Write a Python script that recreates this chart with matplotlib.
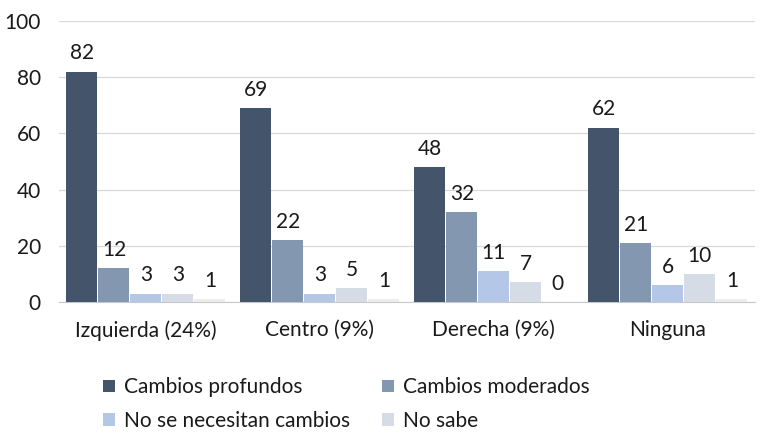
import matplotlib

matplotlib.use('Agg')
import matplotlib.pyplot as plt
import numpy as np

plt.rcParams['font.family'] = ['Lato', 'DejaVu Sans']

grupos = ['Izquierda (24%)', 'Centro (9%)', 'Derecha (9%)', 'Ninguna']
series = ['Cambios profundos', 'Cambios moderados', 'No se necesitan cambios', 'No sabe', 'No contesta']
profundos = [82, 69, 48, 62]
moderados = [12, 22, 32, 21]
no_necesitan = [3, 3, 11, 6]
no_sabe = [3, 5, 7, 10]
no_contesta = [1, 1, 0, 1]
valores = [profundos, moderados, no_necesitan, no_sabe, no_contesta]
colores = ['#44546A', '#8497B0', '#B4C7E7', '#D6DCE5', '#EDEDED']

fig = plt.figure(figsize=(7.68, 4.44), dpi=100)
ax = fig.add_axes([0.0768, 0.3198, 0.906, 0.6329])

fs = 15
x = np.arange(len(grupos))
ancho = 0.184
barras = []
for i, (vals, col) in enumerate(zip(valores, colores)):
    pos = x + (i - 2) * ancho
    b = ax.bar(pos, vals, width=ancho * 0.97, color=col, zorder=3)
    barras.append(b)
    ax.bar_label(b, labels=[str(v) for v in vals], padding=6, fontsize=fs, color='#1a1a1a')

ax.set_xlim(-0.5, 3.5)
ax.set_ylim(0, 100)
ax.set_yticks([0, 20, 40, 60, 80, 100])
ax.set_xticks(x)
ax.set_xticklabels(grupos)
ax.tick_params(axis='both', length=0, labelsize=fs, colors='#1a1a1a')
ax.tick_params(axis='y', pad=13)
ax.tick_params(axis='x', pad=13)
ax.grid(axis='y', color='#D9D9D9', linewidth=0.9, zorder=0)
for s in ['top', 'right', 'left']:
    ax.spines[s].set_visible(False)
ax.spines['bottom'].set_color('#C8C8C8')

orden = [0, 2, 1, 3]
fig.legend([barras[i] for i in orden], [series[i] for i in orden],
           ncol=2, loc='center left', bbox_to_anchor=(0.11, 0.09),
           frameon=False, fontsize=fs, handlelength=0.55, handleheight=0.55,
           handletextpad=0.45, columnspacing=1.55, labelspacing=0.65,
           labelcolor='#1a1a1a')

fig.savefig('out.png', dpi=100)
